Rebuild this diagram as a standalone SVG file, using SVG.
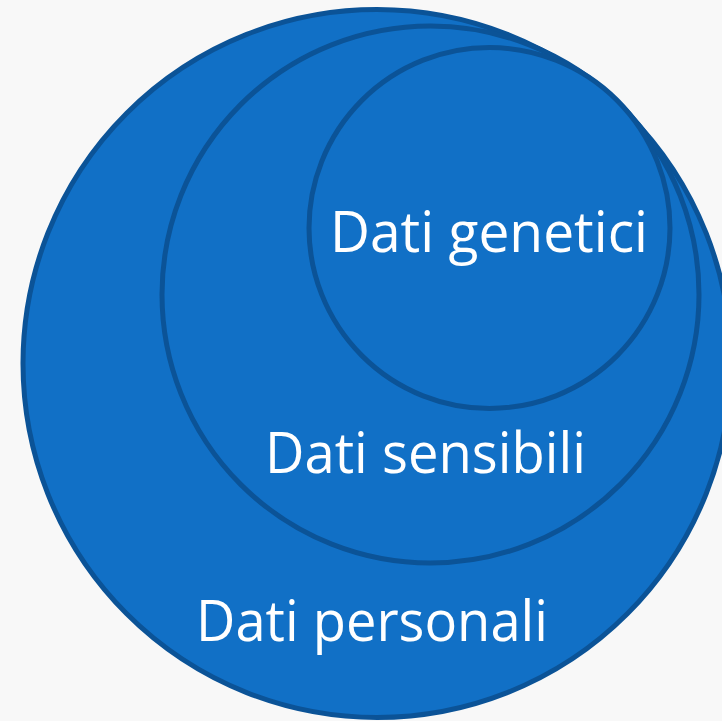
<svg xmlns="http://www.w3.org/2000/svg" width="722" height="721" viewBox="0 0 722 721">
<style>
.c{fill:#1170C6;stroke:#0B5397;stroke-width:5}
.t{fill:#FFFFFF;font-family:"Open Sans","Noto Sans","Liberation Sans",sans-serif;font-size:57px}
</style>
<rect x="0" y="0" width="722" height="721" fill="#F8F8F8"/>
<g id="personali">
<circle class="c" cx="377" cy="363.5" r="354"/>
<text class="t" x="196" y="641" textLength="352" lengthAdjust="spacingAndGlyphs">Dati personali</text>
</g>
<g id="sensibili">
<circle class="c" cx="430.5" cy="294.5" r="268.5"/>
<text class="t" x="265" y="473" textLength="321" lengthAdjust="spacingAndGlyphs">Dati sensibili</text>
</g>
<g id="genetici">
<circle class="c" cx="489.5" cy="228" r="180.5"/>
<text class="t" x="330" y="252" textLength="318" lengthAdjust="spacingAndGlyphs">Dati genetici</text>
</g>
<g id="connectors"/>
</svg>
